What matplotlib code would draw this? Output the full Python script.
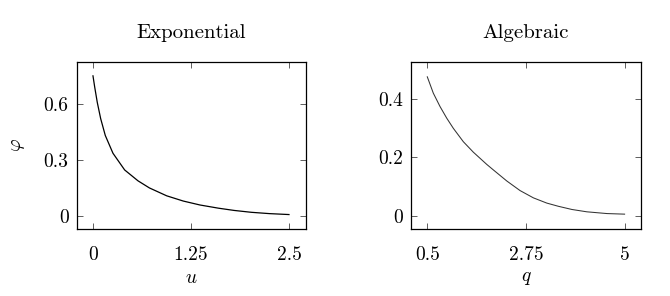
import numpy as np
import matplotlib
matplotlib.use("Agg")
import matplotlib.pyplot as plt

plt.rcParams['font.family'] = 'serif'
plt.rcParams['font.serif'] = ['cmr10']
plt.rcParams['mathtext.fontset'] = 'cm'
plt.rcParams['axes.formatter.use_mathtext'] = True

# values
u = [0.0, 0.022, 0.055, 0.098, 0.157, 0.255, 0.404, 0.574, 0.72, 0.94,
     1.152, 1.365, 1.6, 1.8, 2.02, 2.25, 2.5]
phi_exp = [0.748, 0.688, 0.606, 0.52, 0.43, 0.335, 0.246, 0.188, 0.150, 0.108,
           0.080, 0.059, 0.042, 0.030, 0.020, 0.013, 0.008]

q = [0.5, 0.637, 0.79, 0.943, 1.094, 1.322, 1.55, 1.703, 1.856, 2.007,
     2.313, 2.616, 2.92, 3.226, 3.49, 3.8, 4.14, 4.6, 5.0]
phi_alg = [0.477, 0.421, 0.375, 0.335, 0.300, 0.254, 0.218, 0.197, 0.176, 0.157,
           0.119, 0.086, 0.061, 0.043, 0.032, 0.021, 0.013, 0.007, 0.005]

titles = ['Exponential', 'Algebraic']
u_ticks = [0, 1.25, 2.5]
u_labels = ['0', '1.25', '2.5']
q_ticks = [0.5, 2.75, 5]
q_labels = ['0.5', '2.75', '5']
exp_yticks = [0, 0.3, 0.6]
exp_ylabels = ['0', '0.3', '0.6']
alg_yticks = [0, 0.2, 0.4]
alg_ylabels = ['0', '0.2', '0.4']

fig = plt.figure(figsize=(6.7, 2.96), dpi=100)
ax1 = fig.add_axes([0.1149, 0.2264, 0.3418, 0.5642])
ax2 = fig.add_axes([0.6134, 0.2264, 0.3433, 0.5642])

ax1.plot(u, phi_exp, color='black', lw=0.9)
ax2.plot(q, phi_alg, color='#333333', lw=0.75)

ax1.set_xlim(-0.204, 2.717)
ax1.set_ylim(-0.069, 0.822)
ax2.set_xlim(0.128, 5.374)
ax2.set_ylim(-0.046, 0.528)

ax1.set_xticks(u_ticks)
ax1.set_xticklabels(u_labels)
ax1.set_yticks(exp_yticks)
ax1.set_yticklabels(exp_ylabels)
ax2.set_xticks(q_ticks)
ax2.set_xticklabels(q_labels)
ax2.set_yticks(alg_yticks)
ax2.set_yticklabels(alg_ylabels)

for ax, t in zip([ax1, ax2], titles):
    ax.set_title(t, fontsize=15, pad=17)
    ax.tick_params(direction='in', length=4.5, width=0.6, top=True, right=True,
                   labelsize=14, color='#444444')
    ax.tick_params(axis='x', pad=12)
    ax.tick_params(axis='y', pad=6)
    for s in ax.spines.values():
        s.set_linewidth(0.9)

ax1.set_xlabel(r'$u$', fontsize=14, labelpad=4)
ax2.set_xlabel(r'$q$', fontsize=14, labelpad=4)
ax1.set_ylabel(r'$\varphi$', fontsize=14, labelpad=12)

fig.savefig('out.png', dpi=100)
